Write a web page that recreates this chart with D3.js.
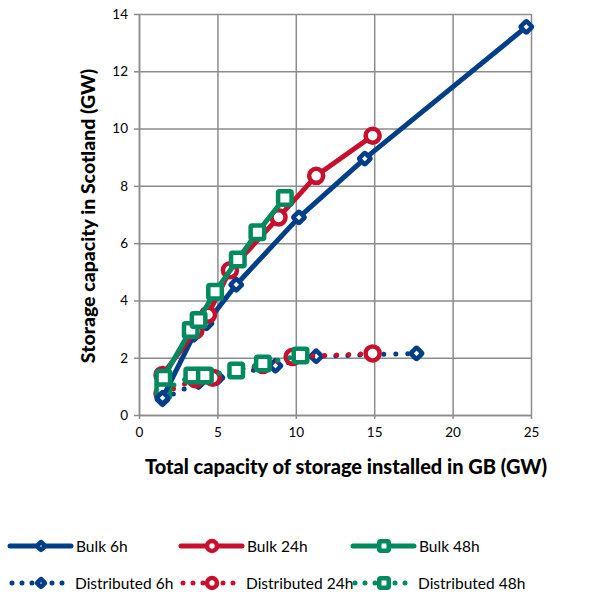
<!DOCTYPE html>
<html>
<head>
<meta charset="utf-8">
<script src="https://cdn.jsdelivr.net/npm/d3@7"></script>
<style>
  body { margin: 0; background: #fff; }
  text { font-family: Lato, "Open Sans", sans-serif; fill: #000; }
</style>
</head>
<body>
<div id="chart"></div>
<script>
// values (GW)
const bulk6hX = [1.5, 3.5, 4.3, 6.2, 10.2, 14.4, 24.7];
const bulk6hY = [0.6, 2.8, 3.2, 4.55, 6.9, 8.95, 13.55];
const bulk24hX = [1.5, 3.6, 4.4, 5.8, 8.9, 11.3, 14.9];
const bulk24hY = [1.4, 2.95, 3.5, 5.05, 6.9, 8.35, 9.75];
const bulk48hX = [1.55, 3.3, 3.8, 4.85, 6.3, 7.55, 9.3];
const bulk48hY = [1.3, 2.97, 3.32, 4.3, 5.43, 6.38, 7.58];
const dist6hX = [1.5, 3.8, 5.0, 8.7, 11.3, 17.7];
const dist6hY = [0.55, 1.15, 1.3, 1.72, 2.05, 2.15];
const dist24hX = [1.5, 3.6, 4.7, 7.9, 9.8, 14.9];
const dist24hY = [0.75, 1.25, 1.3, 1.75, 2.03, 2.15];
const dist48hX = [1.55, 3.4, 4.2, 6.2, 7.9, 10.3];
const dist48hY = [0.85, 1.38, 1.38, 1.55, 1.8, 2.08];

const xTicks = [0, 5, 10, 15, 20, 25];
const yTicks = [0, 2, 4, 6, 8, 10, 12, 14];

const series = [
  { name: "Bulk 6h", xs: bulk6hX, ys: bulk6hY, color: "#003f88", marker: "diamond", dotted: false },
  { name: "Bulk 24h", xs: bulk24hX, ys: bulk24hY, color: "#c8102e", marker: "circle", dotted: false },
  { name: "Bulk 48h", xs: bulk48hX, ys: bulk48hY, color: "#008a5e", marker: "square", dotted: false },
  { name: "Distributed 6h", xs: dist6hX, ys: dist6hY, color: "#003f88", marker: "diamond", dotted: true },
  { name: "Distributed 24h", xs: dist24hX, ys: dist24hY, color: "#c8102e", marker: "circle", dotted: true },
  { name: "Distributed 48h", xs: dist48hX, ys: dist48hY, color: "#008a5e", marker: "square", dotted: true }
];

const margin = { top: 14, left: 139 };
const width = 392;
const height = 401;

const svg = d3.select("#chart")
  .append("svg")
  .attr("width", 613)
  .attr("height", 595);

const g = svg.append("g")
  .attr("transform", `translate(${margin.left},${margin.top})`);

const x = d3.scaleLinear().domain([0, 25]).range([0, width]);
const y = d3.scaleLinear().domain([0, 14]).range([height, 0]);

// gridlines
g.append("g")
  .call(d3.axisLeft(y).tickValues(yTicks).tickSize(-width).tickFormat(""))
  .call(a => a.select(".domain").remove())
  .selectAll("line").attr("stroke", "#8c8c8c").attr("stroke-width", 1.5);
g.append("g")
  .attr("transform", `translate(0,${height})`)
  .call(d3.axisBottom(x).tickValues(xTicks).tickSize(-height).tickFormat(""))
  .call(a => a.select(".domain").remove())
  .selectAll("line").attr("stroke", "#8c8c8c").attr("stroke-width", 1.5);

// axes with outside ticks
const yAxis = g.append("g")
  .call(d3.axisLeft(y).tickValues(yTicks).tickSizeInner(5).tickSizeOuter(0).tickPadding(6));
const xAxis = g.append("g")
  .attr("transform", `translate(0,${height})`)
  .call(d3.axisBottom(x).tickValues(xTicks).tickSizeInner(4).tickSizeOuter(0).tickPadding(8));
[yAxis, xAxis].forEach(a => {
  a.select(".domain").attr("stroke", "#8c8c8c").attr("stroke-width", 1.5);
  a.selectAll("line").attr("stroke", "#8c8c8c").attr("stroke-width", 1.5);
  a.selectAll("text").style("font-size", "13.5px").style("font-family", "Lato, sans-serif").attr("fill", "#000");
});

// axis titles
svg.append("text")
  .attr("x", 346).attr("y", 474)
  .attr("text-anchor", "middle")
  .style("font-size", "20px").style("font-weight", "900")
  .text("Total capacity of storage installed in GB (GW)");
svg.append("text")
  .attr("transform", "translate(95,216) rotate(-90)")
  .attr("text-anchor", "middle")
  .style("font-size", "19.5px").style("font-weight", "900")
  .text("Storage capacity in Scotland (GW)");

function drawMarker(sel, type, color, s) {
  if (type === "circle") {
    sel.append("circle").attr("r", s * 0.52)
      .attr("fill", "#fff").attr("stroke", color).attr("stroke-width", 4.5);
  } else if (type === "square") {
    sel.append("rect").attr("x", -s / 2).attr("y", -s / 2).attr("width", s).attr("height", s)
      .attr("fill", "#fff").attr("stroke", color).attr("stroke-width", 4.5).attr("rx", 1.5);
  } else {
    const d = s * 0.62;
    sel.append("rect").attr("x", -d / 2).attr("y", -d / 2).attr("width", d).attr("height", d)
      .attr("transform", "rotate(45)")
      .attr("fill", "#fff").attr("stroke", color).attr("stroke-width", 4.5).attr("rx", 1);
  }
}

const line = d3.line().x(d => x(d[0])).y(d => y(d[1]));

// draw distributed first, bulk over them
const order = [3, 4, 5, 0, 1, 2];
order.forEach(i => {
  const s = series[i];
  const pts = s.xs.map((v, j) => [v, s.ys[j]]);
  const sg = g.append("g");
  sg.append("path")
    .datum(pts)
    .attr("d", line)
    .attr("fill", "none")
    .attr("stroke", s.color)
    .attr("stroke-width", s.dotted ? 5 : 5)
    .attr("stroke-linecap", "round")
    .attr("stroke-linejoin", "round")
    .attr("stroke-dasharray", s.dotted ? "0 12" : null);
  sg.selectAll(".m")
    .data(pts)
    .enter()
    .append("g")
    .attr("transform", d => `translate(${x(d[0])},${y(d[1])})`)
    .each(function () { drawMarker(d3.select(this), s.marker, s.color, 13.5); });
});

// legend
const legCols = [10, 181, 353];
const legRows = [546, 583];
series.forEach((s, i) => {
  const lx = legCols[i % 3];
  const ly = legRows[Math.floor(i / 3)];
  const lg = svg.append("g").attr("transform", `translate(${lx},${ly})`);
  lg.append("line")
    .attr("x1", s.dotted ? 2 : 0).attr("x2", s.dotted ? 60 : 61)
    .attr("stroke", s.color)
    .attr("stroke-width", 5)
    .attr("stroke-linecap", "round")
    .attr("stroke-dasharray", s.dotted ? "0 10" : null);
  const mg = lg.append("g").attr("transform", "translate(31,0)");
  drawMarker(mg, s.marker, s.color, 9.5);
  lg.append("text")
    .attr("x", s.dotted ? 65 : 66).attr("y", 5.5)
    .style("font-size", "15.5px")
    .text(s.name);
});
</script>
</body>
</html>
